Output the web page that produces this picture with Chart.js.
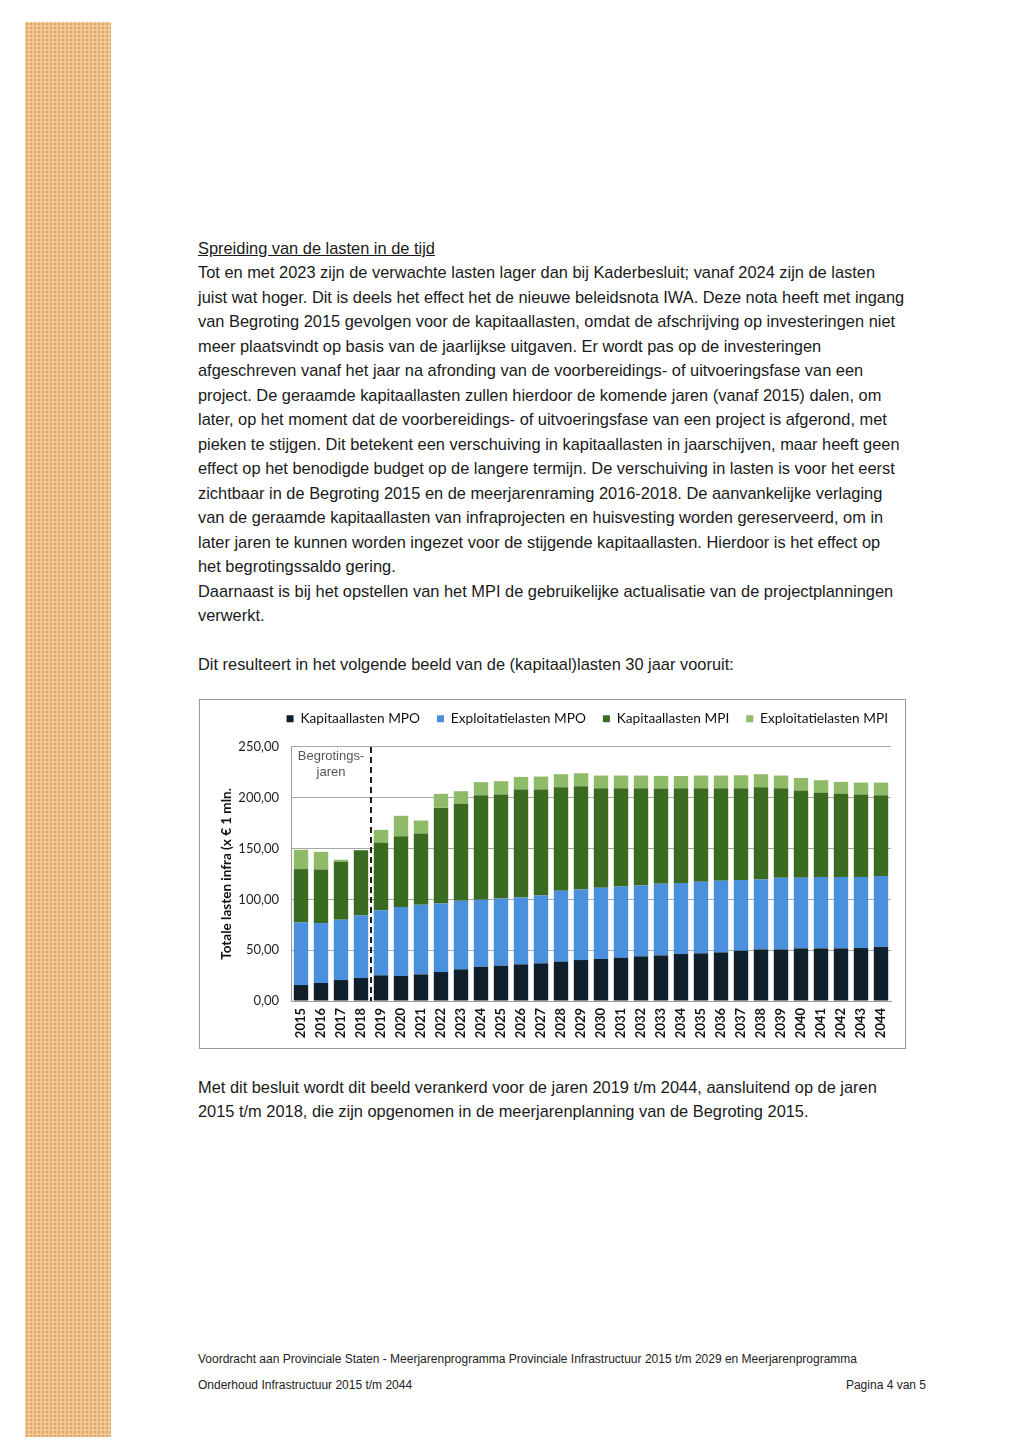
<!DOCTYPE html>
<html lang="nl">
<head>
<meta charset="utf-8">
<script src="https://cdn.jsdelivr.net/npm/chart.js@4/dist/chart.umd.min.js"></script>
<style>
  html, body { margin:0; padding:0; background:#fff; }
  body { width:1024px; height:1447px; position:relative; overflow:hidden; font-family:"Liberation Sans", Arial, sans-serif; color:#1a1a1a; }
  #strip { position:absolute; left:25px; top:22px; width:86px; height:1415px;
    background-color:#f1c48f;
    background-image: radial-gradient(circle at 2px 2px, rgba(205,140,70,0.55) 0.9px, transparent 1.3px),
                      radial-gradient(circle at 0px 0px, rgba(255,230,195,0.7) 0.9px, transparent 1.3px);
    background-size:4px 4px, 4px 4px; }
  .txt { position:absolute; left:198px; font-size:16.4px; line-height:24.47px; white-space:nowrap; }
  .txt div { height:24.47px; }
  .u { text-decoration:underline; }
  .foot { position:absolute; font-size:12px; white-space:nowrap; color:#222; }
  #chartbox { position:absolute; left:199px; top:699px; width:705px; height:348px; border:1px solid #9a9a9a; }
  #chartbox canvas { display:block; }
</style>
</head>
<body>
<div id="strip"></div>

<div class="txt" style="top:236px;">
  <div class="u">Spreiding van de lasten in de tijd</div>
  <div>Tot en met 2023 zijn de verwachte lasten lager dan bij Kaderbesluit; vanaf 2024 zijn de lasten</div>
  <div>juist wat hoger. Dit is deels het effect het de nieuwe beleidsnota IWA. Deze nota heeft met ingang</div>
  <div>van Begroting 2015 gevolgen voor de kapitaallasten, omdat de afschrijving op investeringen niet</div>
  <div>meer plaatsvindt op basis van de jaarlijkse uitgaven. Er wordt pas op de investeringen</div>
  <div>afgeschreven vanaf het jaar na afronding van de voorbereidings- of uitvoeringsfase van een</div>
  <div>project. De geraamde kapitaallasten zullen hierdoor de komende jaren (vanaf 2015) dalen, om</div>
  <div>later, op het moment dat de voorbereidings- of uitvoeringsfase van een project is afgerond, met</div>
  <div>pieken te stijgen. Dit betekent een verschuiving in kapitaallasten in jaarschijven, maar heeft geen</div>
  <div>effect op het benodigde budget op de langere termijn. De verschuiving in lasten is voor het eerst</div>
  <div>zichtbaar in de Begroting 2015 en de meerjarenraming 2016-2018. De aanvankelijke verlaging</div>
  <div>van de geraamde kapitaallasten van infraprojecten en huisvesting worden gereserveerd, om in</div>
  <div>later jaren te kunnen worden ingezet voor de stijgende kapitaallasten. Hierdoor is het effect op</div>
  <div>het begrotingssaldo gering.</div>
  <div>Daarnaast is bij het opstellen van het MPI de gebruikelijke actualisatie van de projectplanningen</div>
  <div>verwerkt.</div>
  <div></div>
  <div>Dit resulteert in het volgende beeld van de (kapitaal)lasten 30 jaar vooruit:</div>
</div>

<div id="chartbox"><canvas id="c" width="705" height="348"></canvas></div>

<div class="txt" style="top:1075px;">
  <div>Met dit besluit wordt dit beeld verankerd voor de jaren 2019 t/m 2044, aansluitend op de jaren</div>
  <div>2015 t/m 2018, die zijn opgenomen in de meerjarenplanning van de Begroting 2015.</div>
</div>

<div class="foot" style="left:198px; top:1352px;">Voordracht aan Provinciale Staten - Meerjarenprogramma Provinciale Infrastructuur 2015 t/m 2029 en Meerjarenprogramma</div>
<div class="foot" style="left:198px; top:1378px;">Onderhoud Infrastructuur 2015 t/m 2044</div>
<div class="foot" style="right:98px; top:1378px;">Pagina 4 van 5</div>

<script>
// ---- data (x € 1 mln) ----
const years = ['2015','2016','2017','2018','2019','2020','2021','2022','2023','2024',
               '2025','2026','2027','2028','2029','2030','2031','2032','2033','2034',
               '2035','2036','2037','2038','2039','2040','2041','2042','2043','2044'];
const kapitaallastenMPO = [15.7,17.7,20.6,22.6,25.2,24.6,26.2,28.5,31.1,33.7,
                           34.7,36.0,37.0,38.7,40.3,41.3,42.6,43.9,44.9,46.2,
                           46.9,47.8,49.5,50.8,50.8,51.8,51.8,51.8,52.1,53.1];
const exploitatielastenMPO = [61.6,59.0,59.4,61.6,64.2,67.8,68.5,67.5,67.5,65.9,
                              66.2,65.9,66.9,69.8,69.5,70.1,70.1,69.8,70.4,69.8,
                              70.4,70.5,69.5,68.8,70.4,69.4,70.1,70.1,69.8,69.8];
const kapitaallastenMPI = [52.5,52.7,57.0,64.2,66.2,69.8,70.1,94.0,95.4,102.9,
                           102.2,106.1,104.1,101.9,101.5,98.0,96.7,95.7,93.8,93.4,
                           92.1,91.1,90.4,90.8,88.2,85.9,82.9,81.9,81.2,79.6];
const exploitatielastenMPI = [19.0,17.4,2.0,0.0,12.8,20.0,12.8,13.8,12.4,12.8,
                              13.2,12.5,12.8,12.7,12.8,12.4,12.4,12.4,12.4,12.0,
                              12.4,12.4,12.7,12.7,12.4,12.4,12.4,11.8,11.8,12.4];
const seriesNames = ['Kapitaallasten MPO','Exploitatielasten MPO','Kapitaallasten MPI','Exploitatielasten MPI'];
const yMin = 0, yMax = 250, yStep = 50;
const budgetYears = ['2015','2016','2017','2018'];
const budgetLabel = ['Begrotings-','jaren'];

const colors = ['#0f202c','#4b90dd','#3a6b20','#8fba67'];

const begroting = {
  id:'begroting',
  afterDatasetsDraw(chart){
    const {ctx, chartArea, scales:{x}} = chart;
    const lastIdx = budgetYears.length - 1;
    const xp = (x.getPixelForValue(lastIdx) + x.getPixelForValue(lastIdx+1)) / 2;
    ctx.save();
    ctx.setLineDash([6,4]);
    ctx.strokeStyle = '#1e1e1e';
    ctx.lineWidth = 2;
    ctx.beginPath();
    ctx.moveTo(xp, chartArea.top);
    ctx.lineTo(xp, chartArea.bottom);
    ctx.stroke();
    ctx.setLineDash([]);
    ctx.fillStyle = '#555';
    ctx.font = '13px "Liberation Sans", Arial, sans-serif';
    ctx.textAlign = 'center';
    ctx.textBaseline = 'middle';
    const cx = (chartArea.left + xp) / 2;
    ctx.fillText(budgetLabel[0], cx, chartArea.top + 10);
    ctx.fillText(budgetLabel[1], cx, chartArea.top + 26);
    ctx.restore();
  }
};

new Chart(document.getElementById('c'), {
  type:'bar',
  data:{
    labels: years,
    datasets:[
      {label:seriesNames[0], data:kapitaallastenMPO, backgroundColor:colors[0]},
      {label:seriesNames[1], data:exploitatielastenMPO, backgroundColor:colors[1]},
      {label:seriesNames[2], data:kapitaallastenMPI, backgroundColor:colors[2]},
      {label:seriesNames[3], data:exploitatielastenMPI, backgroundColor:colors[3]}
    ]
  },
  options:{
    responsive:false,
    animation:false,
    devicePixelRatio:1,
    layout:{padding:{left:19,right:0,top:-5,bottom:6}},
    datasets:{bar:{barPercentage:0.72, categoryPercentage:1.0, borderWidth:0}},
    plugins:{
      legend:{
        position:'top',
        weight:3000,
        fullSize:true,
        align:'end',
        labels:{
          boxWidth:7, boxHeight:7, padding:17,
          color:'#111',
          font:{family:'Lato', size:13.7}
        }
      },
      title:{
        display:true,
        text:' ',
        position:'top',
        font:{size:1},
        padding:{top:0,bottom:10}
      },
      tooltip:{enabled:false}
    },
    scales:{
      x:{
        stacked:true,
        grid:{display:false, drawTicks:false},
        border:{display:true, color:'#9a9a9a'},
        ticks:{maxRotation:90, minRotation:90, padding:7, color:'#111',
               font:{family:'Lato', size:13, weight:'bold'}, autoSkip:false},
        afterFit(s){ s.height = 41; }
      },
      y:{
        stacked:true,
        min:yMin, max:yMax,
        grid:{color:'#a9a9a9', drawTicks:false},
        border:{display:true, color:'#9a9a9a'},
        ticks:{stepSize:yStep, padding:12, color:'#222',
               font:{family:'Lato', size:13},
               callback:(v)=> v.toFixed(2).replace('.', ',')},
        title:{display:true, text:'Totale lasten infra (x € 1 mln.', color:'#111',
               font:{family:'Lato', size:13.5, weight:'bold'}, padding:{top:0,bottom:4}},
        afterFit(s){ s.width = 72; }
      },
      yRight:{
        position:'right',
        display:true,
        grid:{display:false, drawTicks:false},
        border:{display:false},
        ticks:{display:false},
        afterFit(s){ s.width = 14; }
      }
    }
  },
  plugins:[begroting]
});
</script>
</body>
</html>
